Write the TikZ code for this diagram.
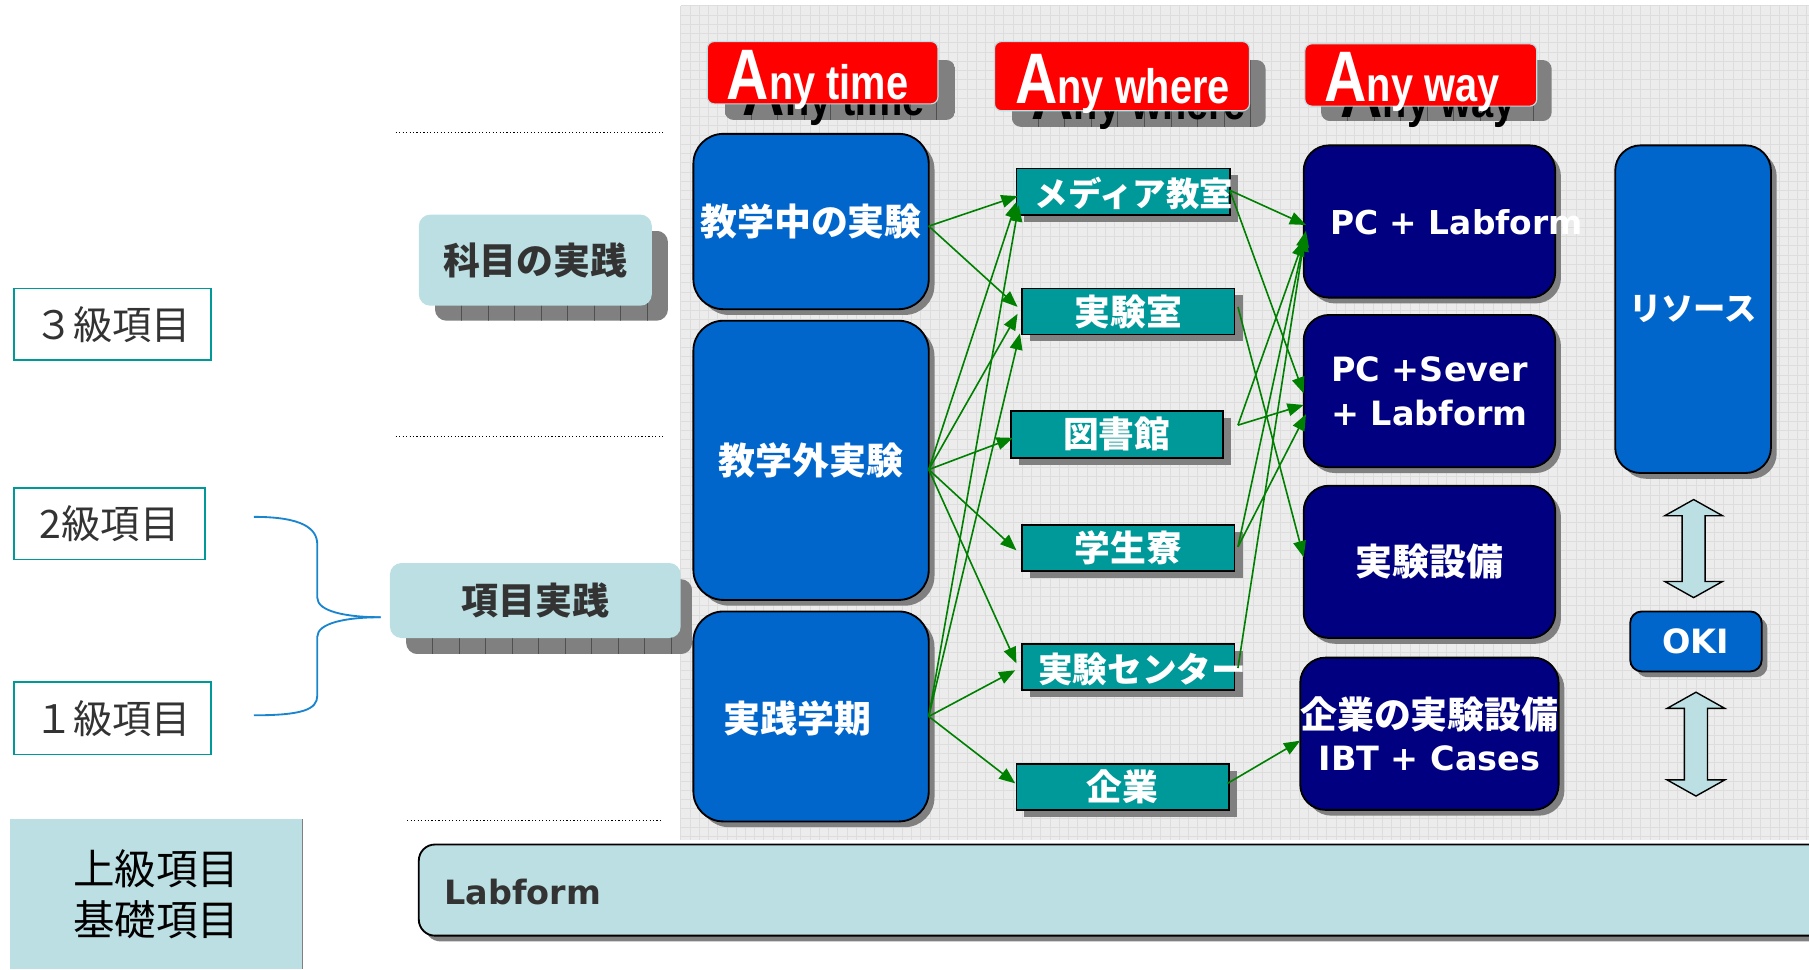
\documentclass[tikz,border=0pt]{standalone}
\usepackage{fontspec}
\usepackage{graphicx}
\usetikzlibrary{arrows.meta,shadows,calc}
\newfontfamily\jp{Noto Sans CJK JP}
\newfontfamily\dv{DejaVu Sans}
\newfontfamily\ls{Liberation Sans}
\definecolor{cblue}{HTML}{0066CC}
\definecolor{cnavy}{HTML}{000080}
\definecolor{cteal}{HTML}{009999}
\definecolor{clight}{HTML}{BBDFE2}
\definecolor{cred}{HTML}{FF0000}
\definecolor{cgreen}{HTML}{008000}
\definecolor{sgray}{HTML}{808080}
\definecolor{sline}{HTML}{505050}
\definecolor{ctext}{HTML}{333333}
\definecolor{cbrace}{HTML}{1A85CF}
\definecolor{bgfill}{HTML}{ECECEC}
\definecolor{bgline}{HTML}{DDDDDD}
\newcommand{\gshadow}[5]{%
  \begin{scope}
    \clip[rounded corners=#5] (#1,#2) rectangle (#3,#4);
    \fill[sgray] (#1,#2) rectangle (#3,#4);
    \foreach \gx in {23,46,...,690} {\draw[sline,line width=0.8pt] ({#1+\gx},#2) -- ({#1+\gx},#4);}
  \end{scope}}
\newcommand{\anyword}[1]{\scalebox{0.82}[1]{\fontsize{62}{62}\selectfont A\fontsize{42}{42}\selectfont #1}}
\begin{document}
\begin{tikzpicture}[x=1pt,y=-1pt,
  base/.style={inner sep=0pt,outer sep=0pt,align=center},
  bluebox/.style={base,draw=black,line width=1.6pt,fill=cblue,rounded corners=26pt,text=white,
    font=\jp\bfseries\fontsize{32}{38}\selectfont,
    drop shadow={shadow xshift=5pt,shadow yshift=-5pt,fill=sgray,opacity=1}},
  navybox/.style={bluebox,fill=cnavy,rounded corners=22pt},
  tealbox/.style={base,draw=black,line width=1.6pt,fill=cteal,text=white,
    font=\jp\bfseries\fontsize{31}{36}\selectfont,
    drop shadow={shadow xshift=7pt,shadow yshift=-6pt,fill=sgray,opacity=1}},
  lighttext/.style={base,text=white,font=\jp\bfseries\fontsize{30}{36}\selectfont},
  lightbox/.style={base,fill=clight,rounded corners=10pt,text=ctext,font=\jp\bfseries\fontsize{32}{36}\selectfont},
  levelbox/.style={base,draw=cteal,line width=1.6pt,fill=white,text=ctext,font=\jp\fontsize{34}{40}\selectfont},
  redbox/.style={base,draw=clight,line width=1pt,fill=cred,rounded corners=6pt},
  flow/.style={cgreen,line width=1.4pt,-{Triangle[length=14pt,width=11pt]}},
  dotline/.style={black,line width=1pt,dotted},
  bracestyle/.style={cbrace,line width=1.6pt},
  dblarrow/.style={draw=black,line width=1.2pt,fill=clight}]
\useasboundingbox (0,0) rectangle (1568,840);

% background grid
\fill[bgfill] (590,5) rectangle (1568,728);
\foreach \gx in {590,598,...,1568} {\draw[bgline,line width=0.5pt] (\gx,5) -- (\gx,728);}
\foreach \gy in {5,13,...,728} {\draw[bgline,line width=0.5pt] (590,\gy) -- (1568,\gy);}

% dotted separators
\draw[dotline] (343,115) -- (575,115);
\draw[dotline] (343,378) -- (575,378);
\draw[dotline] (353,711) -- (573,711);

% level boxes
\node[levelbox,minimum width=171pt,minimum height=62pt] (l3) at (97.5,281) {３級項目};
\node[levelbox,minimum width=166pt,minimum height=62pt] (l2) at (95,454) {2級項目};
\node[levelbox,minimum width=171pt,minimum height=63pt] (l1) at (97.5,622.5) {１級項目};

% practice boxes
\gshadow{377}{200}{579}{278}{10pt}
\node[lightbox,minimum width=202pt,minimum height=79pt] (k1) at (464,225.5) {科目の実践};
\gshadow{352}{502}{600}{567}{10pt}
\node[lightbox,minimum width=252pt,minimum height=65pt] (k2) at (464,520.5) {項目実践};

% brace
\coordinate (bt) at (330,535);
\draw[bracestyle] (220,448) .. controls (262,448) and (275,458) .. (275,472) -- (275,518) .. controls (275,530) and (300,535) .. (bt);
\draw[bracestyle] (bt) .. controls (300,535) and (275,540) .. (275,552) -- (275,603) .. controls (275,615) and (262,620) .. (220,620);

% bottom left box
\node[base,fill=clight,minimum width=253pt,minimum height=130pt,font=\jp\fontsize{36}{44}\selectfont] (bb) at (135.5,775) {上級項目\\基礎項目};
\draw[sgray,line width=1pt] (bb.north east) -- (bb.south east);

% Labform bar
\node[base,draw=black,line width=1.6pt,fill=clight,rounded corners=14pt,minimum width=1230pt,minimum height=79pt,
  drop shadow={shadow xshift=5pt,shadow yshift=-5pt,fill=sgray,opacity=1}] (lab) at (978,771.5) {};
\node[base,anchor=west,text=ctext,font=\dv\bfseries\fontsize{29}{34}\selectfont] (labt) at (385,773) {Labform};

% Any labels
\gshadow{628}{52}{828}{104}{8pt}
\node[base,anchor=base west,text=black,font=\ls\bfseries] (s1t) at (644,100) {\anyword{ny time}};
\node[redbox,minimum width=200pt,minimum height=54pt] (r1) at (713,63) {};
\node[base,anchor=base west,text=white,font=\ls\bfseries] (r1t) at (630,86) {\anyword{ny time}};

\gshadow{877}{52}{1097}{110}{8pt}
\node[base,anchor=base west,text=black,font=\ls\bfseries] (s2t) at (894,104) {\anyword{ny where}};
\node[redbox,minimum width=221pt,minimum height=60pt] (r2) at (972.5,66) {};
\node[base,anchor=base west,text=white,font=\ls\bfseries] (r2t) at (880,90) {\anyword{ny where}};

\gshadow{1145}{52}{1345}{105}{8pt}
\node[base,anchor=base west,text=black,font=\ls\bfseries] (s3t) at (1162,102) {\anyword{ny way}};
\node[redbox,minimum width=201pt,minimum height=54pt] (r3) at (1231.5,65) {};
\node[base,anchor=base west,text=white,font=\ls\bfseries] (r3t) at (1148,88) {\anyword{ny way}};

% column 1
\node[bluebox,minimum width=204pt,minimum height=152pt] (a1) at (703,192) {教学中の実験};
\node[bluebox,minimum width=204pt,minimum height=242pt] (a2) at (703,399) {教学外実験};
\node[bluebox,minimum width=204pt,minimum height=182pt] (a3) at (703,621) {};
\node[lighttext,font=\jp\bfseries\fontsize{32}{38}\selectfont] (a3t) at (691,623) {実践学期};

% column 2
\node[tealbox,minimum width=185pt,minimum height=40pt] (b1) at (973.5,166) {};
\node[lighttext,font=\jp\bfseries\fontsize{29}{34}\selectfont] (b1t) at (983,168) {メディア教室};
\node[tealbox,minimum width=184pt,minimum height=40pt] (b2) at (978,270) {実験室};
\node[tealbox,minimum width=184pt,minimum height=41pt] (b3) at (968,376.5) {図書館};
\node[tealbox,minimum width=184pt,minimum height=40pt] (b4) at (978,475) {学生寮};
\node[tealbox,minimum width=184pt,minimum height=40pt] (b5) at (978,578) {};
\node[lighttext,font=\jp\bfseries\fontsize{30}{34}\selectfont] (b5t) at (990,580) {実験センター};
\node[tealbox,minimum width=184pt,minimum height=40pt] (b6) at (973,682) {企業};

% column 3
\node[navybox,minimum width=218pt,minimum height=132pt] (c1) at (1239,192) {};
\node[base,anchor=west,text=white,font=\dv\bfseries\fontsize{28.5}{34}\selectfont] (c1t) at (1153,193) {PC + Labform};
\node[navybox,minimum width=218pt,minimum height=132pt,font=\dv\bfseries\fontsize{29}{38}\selectfont] (c2) at (1239,339) {PC +Sever\\+ Labform};
\node[navybox,minimum width=218pt,minimum height=132pt] (c3) at (1239,487) {実験設備};
\node[navybox,minimum width=218pt,minimum height=132pt,font=\jp\bfseries\fontsize{32}{36}\selectfont] (c4) at (1239,636) {企業の実験設備\\{\dv\fontsize{29}{36}\selectfont IBT + Cases}};

% right column
\node[bluebox,rounded corners=22pt,minimum width=135pt,minimum height=284pt,font=\jp\bfseries\fontsize{28}{34}\selectfont] (res) at (1467.5,268) {リソース};
\node[bluebox,rounded corners=10pt,minimum width=114pt,minimum height=52pt,font=\dv\bfseries\fontsize{29}{34}\selectfont] (oki) at (1470,556) {OKI};

\draw[dblarrow] (1468,433) -- (1493,447) -- (1478,447) -- (1478,504) -- (1493,504) -- (1468,518) -- (1443,504) -- (1458,504) -- (1458,447) -- (1443,447) -- cycle;
\draw[dblarrow] (1470,600) -- (1495,614) -- (1480,614) -- (1480,676) -- (1495,676) -- (1470,690) -- (1445,676) -- (1460,676) -- (1460,614) -- (1445,614) -- cycle;

% arrows column 1 -> column 2
\draw[flow] ($(a1.east)+(0,4)$) -- ($(b1.west)+(1,4)$);
\draw[flow] ($(a1.east)+(0,4)$) -- ($(b2.west)+(-4,-4)$);
\draw[flow] ($(a2.east)+(0,8)$) -- ($(b1.west)+(0,9)$);
\draw[flow] ($(a2.east)+(0,8)$) -- ($(b2.west)+(-4,2)$);
\draw[flow] ($(a2.east)+(0,8)$) -- ($(b3.west)+(2,3)$);
\draw[flow] ($(a2.east)+(0,8)$) -- ($(b4.west)+(-5,2)$);
\draw[flow] ($(a2.east)+(0,8)$) -- ($(b5.west)+(-5,-3)$);
\draw[flow] (a3.east) -- ($(b1.west)+(2,12)$);
\draw[flow] (a3.east) -- ($(b2.west)+(-2,19)$);
\draw[flow] (a3.east) -- ($(b5.west)+(-6,3)$);
\draw[flow] (a3.east) -- ($(b6.west)+(-1,-3)$);

% arrows column 2 -> column 3
\draw[flow] ($(b1.east)+(0,-1)$) -- ($(c1.west)+(2,3)$);
\draw[flow] ($(b1.east)+(0,-1)$) -- ($(c2.west)+(0,2)$);
\draw[flow] ($(b2.east)+(3,-4)$) -- ($(c3.west)+(0,-4)$);
\draw[flow] ($(b3.east)+(13,-8)$) -- ($(c1.west)+(0,16)$);
\draw[flow] ($(b3.east)+(13,-8)$) -- ($(c2.west)+(0,12)$);
\draw[flow] ($(b4.east)+(3,-1)$) -- ($(c1.west)+(2,8)$);
\draw[flow] ($(b4.east)+(3,-1)$) -- ($(c2.west)+(2,20)$);
\draw[flow] ($(b5.east)+(3,1)$) -- ($(c1.west)+(1,12)$);
\draw[flow] ($(b6.east)+(-1,-3)$) -- ($(c4.west)+(0,6)$);
\end{tikzpicture}
\end{document}
